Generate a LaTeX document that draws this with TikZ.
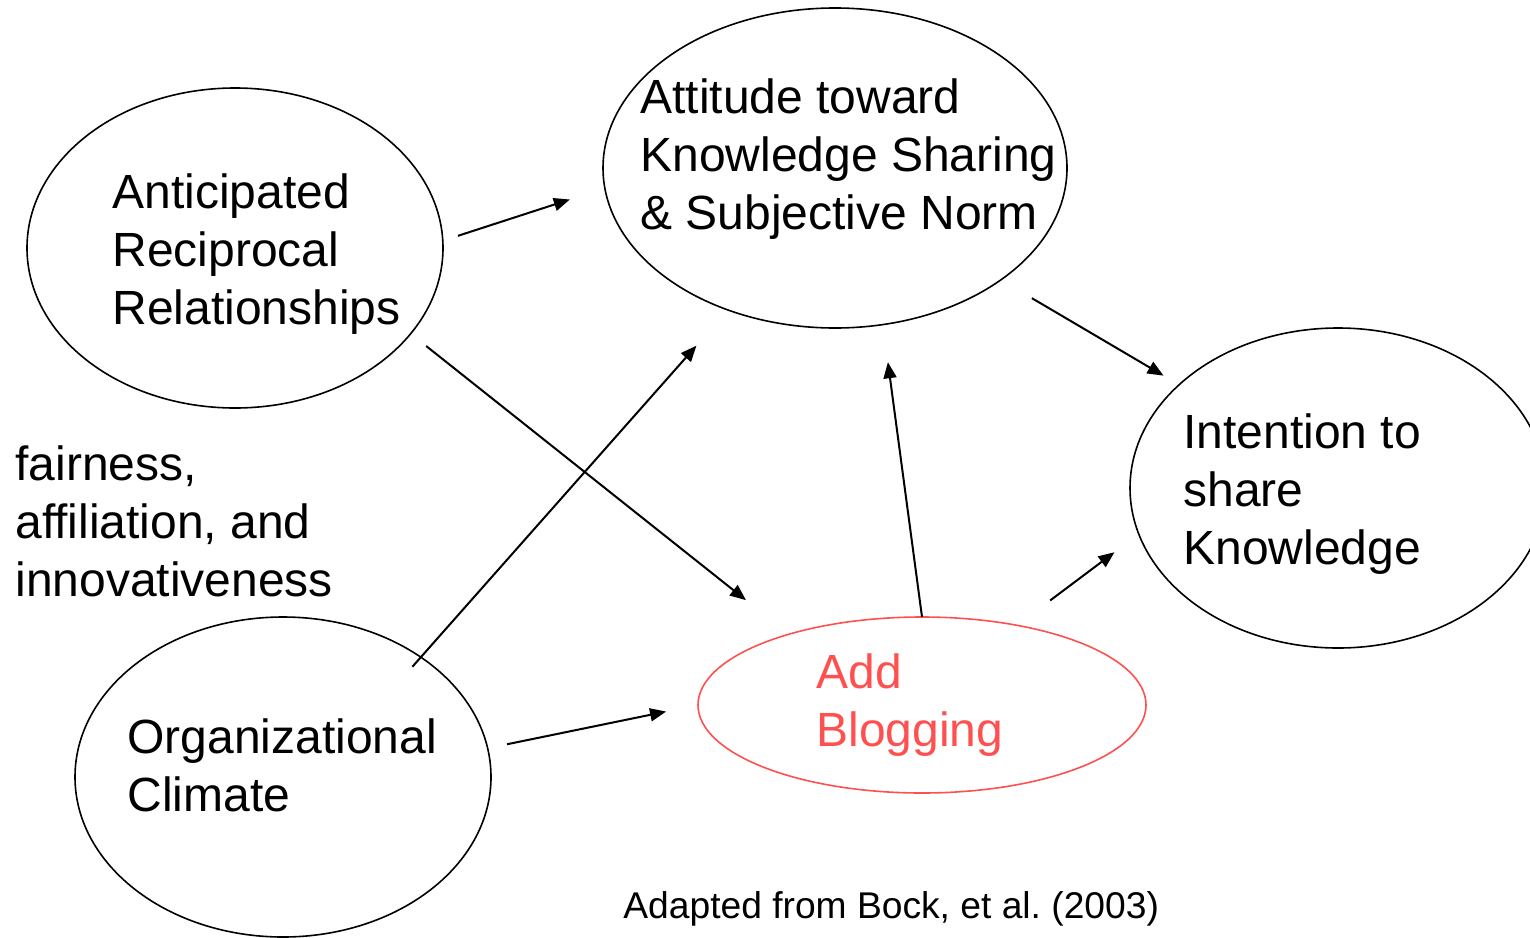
\documentclass[tikz,border=0pt]{standalone}
\usepackage{fontspec}
\setmainfont{Liberation Sans}
\usepackage{tikz}
\usetikzlibrary{arrows.meta,shapes.geometric}
\definecolor{blogred}{RGB}{255,80,80}

\begin{document}
\begin{tikzpicture}[x=0.5pt, y=-0.5pt, main/.style = {draw, ellipse, line width=0.8pt, inner sep=0pt, outer sep=0pt}, lbl/.style = {anchor=base west, inner sep=0pt, align=left, font=\fontsize{24}{29}\selectfont}, arr/.style = {-{Triangle[length=8pt,width=6.5pt]}, line width=1pt}]
    \useasboundingbox (0,0) rectangle (1530,937);
    \node[main, minimum width=208pt, minimum height=160pt] (ant) at (235,248) {};
    \node[main, minimum width=232pt, minimum height=160pt] (att) at (835,168) {};
    \node[main, minimum width=208pt, minimum height=160pt] (int) at (1338,488) {};
    \node[main, minimum width=208pt, minimum height=160pt] (org) at (283,777) {};
    \node[main, draw=blogred, minimum width=224pt, minimum height=88pt] (add) at (922,705) {};
    \node[lbl] (antx) at (112,324) {Anticipated\\Reciprocal\\Relationships};
    \node[lbl] (attx) at (640,229) {Attitude toward\\Knowledge Sharing\\\& Subjective Norm};
    \node[lbl] (intx) at (1183,564) {Intention to\\share\\Knowledge};
    \node[lbl] (orgx) at (127,811) {Organizational\\Climate};
    \node[lbl, text=blogred] (addx) at (816,746) {Add\\Blogging};
    \node[lbl] (fair) at (15,596) {fairness,\\affiliation, and\\innovativeness};
    \node[anchor=base west, inner sep=0pt, font=\fontsize{18.6}{22}\selectfont] (src) at (623,918) {Adapted from Bock, et al.\ (2003)};
    \draw[arr, shorten <=8pt, shorten >=18.4pt] (ant.2.9) -- (att.185.7);
    \draw[arr, shorten <=9.9pt, shorten >=27.4pt] (ant.334.4) -- (add.152);
    \draw[arr, shorten <=-6.4pt, shorten >=23.8pt] (org.41.9) -- (att.233.6);
    \draw[arr, shorten <=9.9pt, shorten >=16.3pt] (org.8.1) -- (add.180.45);
    \draw[arr, shorten >=19pt] (add.north) -- (att.287.8);
    \draw[arr, shorten <=18pt, shorten >=9pt] (att.326.8) -- (int.147.3);
    \draw[arr, shorten <=20.7pt, shorten >=15.2pt] (add.40.2) -- (int.193.7);
\end{tikzpicture}
\end{document}
